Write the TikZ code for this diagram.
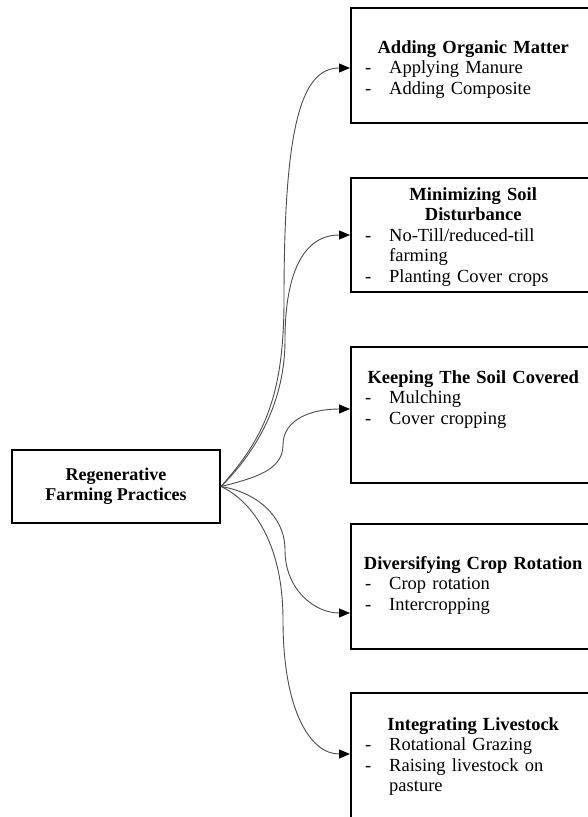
\documentclass[tikz,border=0pt]{standalone}
\usepackage{fontspec}
\setmainfont{Liberation Serif}
\usetikzlibrary{arrows.meta}
\begin{document}
\begin{tikzpicture}[x=1pt,y=-1pt,
  box/.style={draw=black, line width=1.6pt, inner sep=0, anchor=north west, minimum width=247pt},
  lbox/.style={draw=black, line width=2pt, inner sep=0, minimum width=208pt, minimum height=73pt, align=center, font=\fontsize{18}{20}\selectfont\bfseries},
  txt/.style={anchor=north west, inner sep=0, text width=216pt, align=left, font=\fontsize{18.5}{20.5}\selectfont},
  conn/.style={draw=black!70, line width=0.9pt, -{Triangle[length=11pt,width=9pt,color=black]}}
]
\useasboundingbox (0,0) rectangle (588,817);

\node[lbox] (L) at (116,486.5) {Regenerative\\Farming Practices};

\node[box, minimum height=115pt] (b1) at (350,7) {};
\node[box, minimum height=114pt] (b2) at (350,177) {};
\node[box, minimum height=136pt] (b3) at (350,346) {};
\node[box, minimum height=125pt] (b4) at (350,523) {};
\node[box, minimum height=150pt] (b5) at (350,692) {};

\node[txt] (t1) at (365,38.65) {\strut\makebox[\linewidth]{\textbf{Adding Organic Matter}}\\
\makebox[24pt][l]{-}Applying Manure\\
\makebox[24pt][l]{-}Adding Composite};

\node[txt] (t2) at (365,185.65) {\strut\makebox[\linewidth]{\textbf{Minimizing Soil}}\\
\makebox[\linewidth]{\textbf{Disturbance}}\\
\makebox[24pt][l]{-}No-Till/reduced-till\\
\hspace*{24pt}farming\\
\makebox[24pt][l]{-}Planting Cover crops};

\node[txt] (t3) at (365,368.65) {\strut\makebox[\linewidth]{\textbf{Keeping The Soil Covered}}\\
\makebox[24pt][l]{-}Mulching\\
\makebox[24pt][l]{-}Cover cropping};

\node[txt] (t4) at (365,554.65) {\strut\makebox[\linewidth]{\textbf{Diversifying Crop Rotation}}\\
\makebox[24pt][l]{-}Crop rotation\\
\makebox[24pt][l]{-}Intercropping};

\node[txt] (t5) at (365,715.65) {\strut\makebox[\linewidth]{\textbf{Integrating Livestock}}\\
\makebox[24pt][l]{-}Rotational Grazing\\
\makebox[24pt][l]{-}Raising livestock on\\
\hspace*{24pt}pasture};

\draw[conn] (L.east) .. controls (262,440) and (284,400) .. (284,300) .. controls (284,130) and (300,68) .. ([yshift=-61pt]b1.north west);
\draw[conn] (L.east) .. controls (258,450) and (285,400) .. (285,340) .. controls (285,270) and (305,235) .. ([yshift=-58pt]b2.north west);
\draw[conn] (L.east) .. controls (255,478) and (283,470) .. (283,445) .. controls (283,420) and (310,409) .. ([yshift=-63pt]b3.north west);
\draw[conn] (L.east) .. controls (255,492) and (285,515) .. (285,550) .. controls (285,590) and (315,613) .. ([yshift=-90pt]b4.north west);
\draw[conn] (L.east) .. controls (250,500) and (283,540) .. (283,620) .. controls (283,710) and (310,754) .. ([yshift=-62pt]b5.north west);
\end{tikzpicture}
\end{document}
